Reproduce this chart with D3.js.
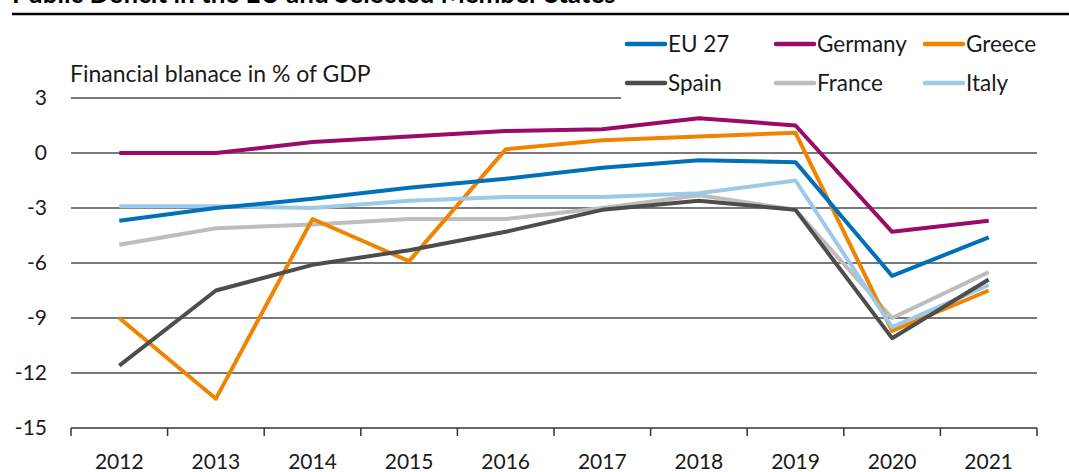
<!DOCTYPE html>
<html>
<head>
<meta charset="utf-8">
<script src="https://cdn.jsdelivr.net/npm/d3@7"></script>
<style>
  body { margin: 0; background: #fff; }
  svg { display: block; font-family: Lato, "Open Sans", sans-serif; }
</style>
</head>
<body>
<div id="chart"></div>
<script>
// years on the x axis
const years = ["2012","2013","2014","2015","2016","2017","2018","2019","2020","2021"];
const yTicks = [3, 0, -3, -6, -9, -12, -15];

// financial balance, % of GDP
const eu27    = [-3.7, -3.0, -2.5, -1.9, -1.4, -0.8, -0.4, -0.5, -6.7, -4.6];
const germany = [0.0, 0.0, 0.6, 0.9, 1.2, 1.3, 1.9, 1.5, -4.3, -3.7];
const greece  = [-9.0, -13.4, -3.6, -5.9, 0.2, 0.7, 0.9, 1.1, -9.7, -7.5];
const spain   = [-11.6, -7.5, -6.1, -5.3, -4.3, -3.1, -2.6, -3.1, -10.1, -6.9];
const france  = [-5.0, -4.1, -3.9, -3.6, -3.6, -3.0, -2.3, -3.1, -9.0, -6.5];
const italy   = [-2.9, -2.9, -3.0, -2.6, -2.4, -2.4, -2.2, -1.5, -9.5, -7.2];

const series = [
  {name: "EU 27",   values: eu27,    color: "#0070b8"},
  {name: "Germany", values: germany, color: "#990a6b"},
  {name: "Greece",  values: greece,  color: "#f08300"},
  {name: "Spain",   values: spain,   color: "#4d4d4d"},
  {name: "France",  values: france,  color: "#bdbdbd"},
  {name: "Italy",   values: italy,   color: "#9dc9e8"}
];
// which order the lines are painted in
const drawOrder = ["France", "Greece", "Italy", "Spain", "EU 27", "Germany"];

const W = 1069, H = 472;
const svg = d3.select("#chart").append("svg").attr("width", W).attr("height", H);

const x = d3.scaleBand().domain(years).range([71, 1037]);
const y = d3.scaleLinear().domain([-15, 3]).range([428, 98]);

// title (cut off at top of the picture, as in the source) and rule
svg.append("text")
  .attr("x", 12).attr("y", 3)
  .attr("font-size", 26).attr("font-weight", "bold").attr("fill", "#000")
  .text("Public Deficit in the EU and Selected Member States");
svg.append("line")
  .attr("x1", 12).attr("x2", W).attr("y1", 14).attr("y2", 14)
  .attr("stroke", "#000").attr("stroke-width", 2.5);

// gridlines
svg.append("g").selectAll("line")
  .data(yTicks.filter(d => d > -15))
  .join("line")
  .attr("x1", 71)
  .attr("x2", d => d === 3 ? 621 : 1037)
  .attr("y1", d => y(d)).attr("y2", d => y(d))
  .attr("stroke", "#4d4d4d").attr("stroke-width", 1.3);

// y labels
svg.append("g").selectAll("text")
  .data(yTicks)
  .join("text")
  .attr("x", 47).attr("y", d => y(d))
  .attr("dy", "0.35em")
  .attr("text-anchor", "end")
  .attr("font-size", 21).attr("fill", "#1a1a1a")
  .text(d => d);

// x axis
const xAxis = svg.append("g").attr("transform", `translate(0,${y(-15)})`);
xAxis.append("line").attr("x1", 71).attr("x2", 1037)
  .attr("stroke", "#333").attr("stroke-width", 1.5);
xAxis.selectAll("line.tick")
  .data(years.concat(["end"]))
  .join("line").attr("class", "tick")
  .attr("x1", (d, i) => i < years.length ? x(d) : x.range()[1])
  .attr("x2", (d, i) => i < years.length ? x(d) : x.range()[1])
  .attr("y1", 0).attr("y2", 8)
  .attr("stroke", "#333").attr("stroke-width", 1.5);
xAxis.selectAll("text")
  .data(years)
  .join("text")
  .attr("x", d => x(d) + x.bandwidth() / 2)
  .attr("y", 41)
  .attr("text-anchor", "middle")
  .attr("font-size", 21).attr("fill", "#1a1a1a")
  .text(d => d);

// axis caption
svg.append("text")
  .attr("x", 70).attr("y", 82)
  .attr("font-size", 23).attr("fill", "#1a1a1a")
  .text("Financial blanace in % of GDP");

// lines
const line = d3.line()
  .x((d, i) => x(years[i]) + x.bandwidth() / 2)
  .y(d => y(d));

svg.append("g").selectAll("path")
  .data(drawOrder.map(n => series.find(s => s.name === n)))
  .join("path")
  .attr("d", d => line(d.values))
  .attr("fill", "none")
  .attr("stroke", d => d.color)
  .attr("stroke-width", 4)
  .attr("stroke-linejoin", "round");

// legend, 3 columns x 2 rows
const legend = svg.append("g").selectAll("g")
  .data(series)
  .join("g")
  .attr("transform", (d, i) => `translate(${627 + (i % 3) * 149},${44 + Math.floor(i / 3) * 39})`);
legend.append("line")
  .attr("x1", 0).attr("x2", 38)
  .attr("stroke", d => d.color).attr("stroke-width", 4.5)
  .attr("stroke-linecap", "round");
legend.append("text")
  .attr("x", 41).attr("dy", "0.35em")
  .attr("font-size", 22.5).attr("fill", "#1a1a1a")
  .text(d => d.name);
</script>
</body>
</html>
